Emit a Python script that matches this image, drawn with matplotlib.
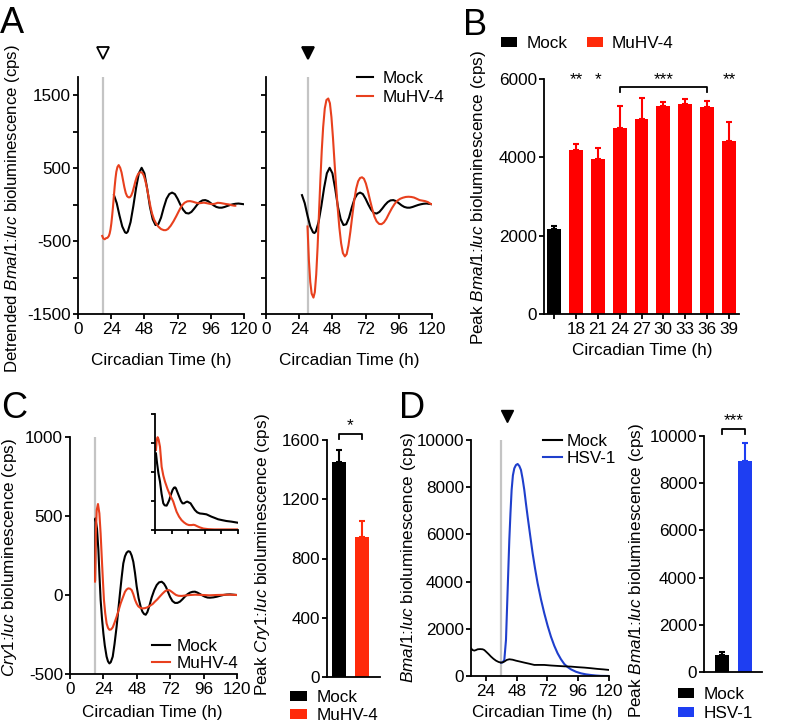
import matplotlib
matplotlib.use("Agg")
import matplotlib.pyplot as plt
from matplotlib.lines import Line2D
from matplotlib.patches import Rectangle

W, H = 796, 728

# ---- panel A: detrended Bmal1:luc, mock (same trace in both plots)
CT_MOCK_A = [26, 28, 30, 32, 34, 35, 36, 38, 40, 42, 44, 46, 48, 50, 52, 54, 56, 58,
             60, 62, 64, 66, 68, 70, 72, 74, 76, 78, 80, 82, 84, 86, 88, 90, 92, 94,
             96, 98, 100, 102, 104, 106, 108, 110, 112, 114, 116, 118, 120]
MOCK_A = [130, 20, -150, -300, -380, -390, -370, -240, -20, 230, 430, 505, 430, 220,
          -30, -200, -280, -270, -180, -40, 80, 145, 165, 145, 80, 0, -70, -115, -122,
          -100, -55, -5, 35, 58, 62, 48, 20, -10, -32, -42, -42, -32, -18, -5, 5, 12,
          15, 10, 5]

# MuHV-4 added at CT18
CT_MUHV_A18 = [17.5, 18.3, 19.3, 20.3, 21.3, 22.3, 22.9, 23.5, 24.1, 24.7, 25.3, 25.9,
               26.5, 27.1, 27.7, 28.5, 29.4, 30.5, 31.5, 32.5, 33.5, 34.5, 35.5, 36.5,
               37.5, 38.5, 39.5, 40.5, 41.5, 42.5, 43.5, 44.5, 45.5, 46.5, 47.5, 48.5,
               49.5, 50.5, 51.5, 52.5, 53.5, 55, 56.5, 58, 60, 62, 63.5, 65, 67, 69, 71,
               73, 75, 77, 79, 81, 83, 85, 87, 89, 91, 93, 95, 97, 99, 101, 103, 105,
               107, 109, 111, 113, 113.7]
MUHV_A18 = [-430, -465, -475, -460, -455, -430, -395, -340, -258, -150, -29, 110, 245,
            360, 450, 515, 542, 505, 440, 340, 240, 160, 115, 100, 100, 125, 175, 245,
            320, 380, 420, 440, 445, 435, 400, 340, 260, 160, 60, -40, -120, -205, -260,
            -300, -335, -350, -350, -335, -290, -230, -160, -85, -15, 25, 45, 48, 40,
            28, 18, 22, 27, 20, 12, 6, 12, 25, 22, 15, 8, 3, -8, -15, -15]

# MuHV-4 added at CT30
CT_MUHV_A30 = [30, 31, 32, 33, 34.3, 35.3, 36.3, 37.3, 38.3, 39.3, 40.3, 41.3, 42.5,
               43.7, 45, 46.2, 47.3, 48.4, 49.5, 50.6, 51.8, 53, 54.3, 55.6, 57, 58.3,
               59.6, 61, 62.4, 63.8, 65.2, 66.6, 68, 69.4, 70.8, 72.2, 73.6, 75.2, 76.8,
               78.4, 80, 81.8, 83.5, 85.2, 87, 89, 91, 93, 95, 97, 99, 101, 103, 105,
               107, 109, 111, 113, 115, 117, 119, 120]
MUHV_A30 = [-300, -760, -1060, -1220, -1275, -1200, -960, -580, -120, 335, 740, 1060,
            1320, 1435, 1455, 1390, 1200, 920, 590, 280, -40, -310, -530, -665, -710,
            -680, -560, -370, -150, 60, 220, 320, 365, 375, 355, 290, 190, 60, -60,
            -165, -230, -265, -268, -245, -195, -120, -50, 10, 55, 80, 95, 105, 108,
            105, 97, 80, 62, 55, 48, 35, 10, 5]

# ---- panel B: peak Bmal1:luc by time of infection
B_LABELS = ["", "18", "21", "24", "27", "30", "33", "36", "39"]
B_PEAK = [2170, 4195, 3950, 4750, 4980, 5300, 5370, 5290, 4410]
B_SEM = [65, 140, 300, 560, 545, 120, 120, 155, 500]

# ---- panel C: Cry1:luc
CT_C_MOCK = [18, 18.3, 19.4, 20.4, 21.2, 22, 23, 24, 25, 26.3, 27.3, 28.3, 29.3, 30.7,
             32, 33.5, 34.7, 35.9, 37.1, 38.3, 39.5, 40.7, 41.9, 43.1, 44.3, 45.5, 46.7,
             47.9, 49.3, 50.8, 52, 53.2, 54.4, 55.6, 57, 58.7, 60.5, 62.3, 64, 65.9,
             67.5, 69, 70.5, 71.9, 73.6, 75.4, 77.2, 79, 80.8, 82.6, 84.4, 86.2, 88,
             89.8, 91.6, 93.4, 95.2, 97, 98.8, 100.6, 103, 105.4, 107.8, 110.2, 112.6,
             115, 117.4, 119.8]
C_MOCK = [95, 485, 420, 285, 120, -30, -150, -245, -320, -390, -420, -433, -425, -390,
          -310, -200, -95, 10, 110, 200, 245, 268, 277, 274, 250, 210, 140, 55, -20, -75,
          -105, -120, -125, -108, -70, -15, 30, 63, 80, 84, 72, 50, 18, -12, -38, -50,
          -50, -42, -27, -10, 5, 15, 20, 21, 15, 6, -3, -11, -16, -17, -15, -11, -5, 0,
          3, 4, 2, 0]
CT_C_MUHV = [18, 18.6, 19.2, 20.1, 21.1, 22, 22.8, 23.6, 24.4, 25.3, 26.3, 27.3, 28.3,
             29.5, 30.7, 32, 33.5, 35, 36.4, 38, 39.5, 40.7, 41.9, 43.1, 44.3, 45.5,
             46.7, 47.9, 49.1, 50.6, 52.2, 53.9, 55.6, 57.5, 59.4, 61, 62.8, 64.7, 66.6,
             68.3, 69.9, 71.5, 73, 74.6, 76.2, 78, 80.2, 83, 86.2, 90, 95.8, 100, 105.4,
             110, 115, 119.8]
C_MUHV = [85, 400, 538, 576, 517, 390, 242, 100, -32, -115, -180, -208, -220, -218,
          -205, -175, -137, -95, -53, -15, 20, 35, 42, 40, 31, 5, -30, -55, -72, -82, -85,
          -83, -78, -68, -57, -42, -27, -8, 10, 24, 31, 30, 21, 10, 0, -5, -6, -3, 0, 2,
          0, -2, 0, 1, 2, 0]

# inset: raw Cry1:luc traces (arbitrary units)
CT_INSET_MOCK = [1.4, 3, 5, 7.2, 9.5, 12, 14, 16.8, 18.5, 20.6, 23, 25.4, 27.5, 29,
                 30.2, 32.5, 35, 37.5, 39.8, 42, 44.5, 46.6, 49, 51.4, 54, 57.6, 61,
                 64.8, 69, 74.4, 78, 81.6, 86, 91.2, 97, 103.2, 110, 115, 120]
INSET_MOCK = [2.64, 2.3, 1.95, 1.67, 1.25, 0.92, 0.85, 0.84, 0.92, 1.03, 1.22, 1.38,
              1.46, 1.47, 1.44, 1.3, 1.15, 1.0, 0.92, 0.92, 0.96, 0.98, 0.95, 0.92,
              0.82, 0.69, 0.61, 0.57, 0.56, 0.54, 0.5, 0.46, 0.42, 0.37, 0.34, 0.31,
              0.29, 0.27, 0.25]
CT_INSET_MUHV = [1.4, 2.5, 3.8, 5.2, 7.2, 8.5, 9.6, 12, 14.4, 18, 21.6, 24, 26.4, 28.8,
                 31.2, 34.8, 38.4, 42, 45.6, 49, 52.8, 55.5, 57.6, 61, 64.8, 70, 76.8,
                 86, 96, 108, 120]
INSET_MUHV = [2.76, 3.1, 3.2, 3.12, 2.87, 2.5, 2.18, 1.88, 1.67, 1.42, 1.21, 1.1, 0.98,
              0.8, 0.63, 0.46, 0.34, 0.26, 0.2, 0.17, 0.17, 0.18, 0.17, 0.13, 0.09,
              0.05, 0.03, 0.02, 0.02, 0.02, 0.02]

C_GROUPS = ["Mock", "MuHV-4"]
C_PEAK = [1450, 943]
C_SEM = [83, 112]

# ---- panel D: HSV-1
CT_D_MOCK = [12.3, 13.5, 14.9, 16.2, 17.5, 19.5, 21.4, 22.7, 24, 26, 27.9, 29.8, 31.8,
             33.8, 35.7, 37, 38.3, 40.2, 42.2, 44.8, 47.4, 50.6, 53.9, 57.8, 61.7, 65.6,
             69.5, 74.7, 79.9, 85.1, 90.3, 95.5, 100.7, 105.9, 111.1, 115.7, 120]
D_MOCK = [1175, 1100, 1076, 1100, 1132, 1140, 1132, 1100, 1034, 930, 822, 730, 650,
          595, 567, 580, 610, 680, 709, 690, 650, 610, 567, 520, 469, 470, 469, 445, 427,
          410, 398, 375, 356, 330, 300, 280, 257]
CT_D_HSV = [35.7, 37, 38.3, 39.6, 40.9, 42.2, 43.1, 44, 45, 46.1, 47.4, 48.7, 50, 51.3,
            52.6, 53.9, 55.2, 56.5, 58.5, 60.4, 62.3, 64.3, 66.9, 69.5, 72.1, 74.7,
            77.3, 79.9, 82.5, 85.1, 87.7, 90.3, 94.2, 98.1, 102, 105.9, 109.8, 113.7,
            120]
D_HSV = [567, 575, 680, 1528, 3646, 5764, 6900, 7882, 8500, 8800, 8940, 8983, 8900,
         8729, 8350, 7882, 7300, 6752, 5950, 5199, 4550, 3929, 3250, 2657, 2130, 1666,
         1280, 960, 710, 508, 380, 282, 180, 113, 70, 42, 20, 5, 0]

D_GROUPS = ["Mock", "HSV-1"]
D_PEAK = [725, 8945]
D_SEM = [135, 770]

BLACK = "#000000"
RED_LINE = "#e8401e"
RED_BAR = "#ff0000"
RED_BAR_C = "#ff2a0a"
BLUE_LINE = "#1f3fcc"
BLUE_BAR = "#1e3ef2"
GREY = "#c4c4c4"

plt.rcParams.update({
    "font.family": ["Liberation Sans", "DejaVu Sans"],
    "font.size": 12.3,
    "mathtext.fontset": "custom",
    "mathtext.rm": "Liberation Sans",
    "mathtext.it": "Liberation Sans:italic",
    "axes.unicode_minus": False,
    "axes.linewidth": 1.3,
    "xtick.major.width": 1.3,
    "ytick.major.width": 1.3,
    "xtick.minor.width": 1.3,
    "ytick.minor.width": 1.3,
    "xtick.major.size": 3.6,
    "ytick.major.size": 3.6,
    "ytick.minor.size": 3.6,
    "xtick.major.pad": 2,
    "ytick.major.pad": 1.5,
})


def fx(x):
    return x / W


def fy(y):
    return 1 - y / H


def add_px_axes(fig, left, top, right, bottom):
    ax = fig.add_axes([left / W, 1 - bottom / H, (right - left) / W, (bottom - top) / H])
    ax.spines["top"].set_visible(False)
    ax.spines["right"].set_visible(False)
    ax.tick_params(direction="out", labelsize=12.3)
    return ax


def line_key(fig, x0, x1, tx, y, color, label):
    fig.add_artist(Line2D([fx(x0), fx(x1)], [fy(y), fy(y)], color=color, lw=1.5,
                          transform=fig.transFigure))
    fig.text(fx(tx), fy(y), label, ha="left", va="center_baseline", fontsize=12.3)


def box_key(fig, x0, x1, tx, y, color, label, h=10):
    fig.add_artist(Rectangle((fx(x0), fy(y + h / 2)), (x1 - x0) / W, h / H,
                             color=color, transform=fig.transFigure, lw=0))
    fig.text(fx(tx), fy(y), label, ha="left", va="center_baseline", fontsize=12.3)


def bracket(ax, x0, x1, y, drop, stars, star_y):
    ax.plot([x0, x0, x1, x1], [y - drop, y, y, y - drop], color=BLACK, lw=1.3,
            clip_on=False)
    ax.text((x0 + x1) / 2, star_y, stars, ha="center", va="center", fontsize=12.3,
            clip_on=False)


def peak_bars(ax, x, peaks, sems, colors, width):
    ax.bar(x, peaks, width, color=colors, lw=0)
    for xi, p, s, c in zip(x, peaks, sems, colors):
        ax.errorbar([xi], [p], yerr=[[0], [s]], fmt="none", ecolor=c,
                    elinewidth=1.5, capsize=2.4, capthick=1.5)


fig = plt.figure(figsize=(W / 100, H / 100), dpi=100)

# ---------------- A
bmal_label = "Detrended $\\mathit{Bmal1}$:$\\mathit{luc}$ bioluminescence (cps)"
for left, right, t_inf, ct, vals, open_mark in (
    (78, 244, 18, CT_MUHV_A18, MUHV_A18, True),
    (266, 432, 30, CT_MUHV_A30, MUHV_A30, False),
):
    ax = add_px_axes(fig, left, 77, right, 314)
    ax.axvline(t_inf, color=GREY, lw=1.6, zorder=0)
    ax.plot(CT_MOCK_A, MOCK_A, color=BLACK, lw=1.5)
    ax.plot(ct, vals, color=RED_LINE, lw=1.5)
    ax.set_xlim(0, 120)
    ax.set_ylim(-1500, 1750)
    ax.set_xticks([0, 24, 48, 72, 96, 120])
    ax.set_yticks([-1500, -500, 500, 1500])
    ax.set_yticks([-1000, 0, 1000], minor=True)
    ax.tick_params(axis="x", which="minor", bottom=False)
    if not open_mark:
        ax.set_yticklabels([])
    ax.plot([t_inf], [1.101], marker="v", ms=8, transform=ax.get_xaxis_transform(),
            clip_on=False, mfc="white" if open_mark else BLACK, mec=BLACK, mew=1.3)
    fig.text(fx((left + right) / 2), fy(360), "Circadian Time (h)", ha="center",
             va="center", fontsize=12.3)

fig.text(fx(13), fy(209), bmal_label, rotation=90, ha="center", va="center",
         fontsize=12.1)
line_key(fig, 357, 373, 383, 77, BLACK, "Mock")
line_key(fig, 357, 373, 383, 96, RED_LINE, "MuHV-4")

# ---------------- B
ax = add_px_axes(fig, 544, 79, 739, 314)
xb = list(range(len(B_PEAK)))
peak_bars(ax, xb, B_PEAK, B_SEM, [BLACK] + [RED_BAR] * (len(B_PEAK) - 1), 0.64)
ax.set_xlim(-0.46, 8.46)
ax.set_ylim(0, 6000)
ax.set_yticks([0, 2000, 4000, 6000])
ax.set_xticks(xb)
ax.set_xticklabels(B_LABELS)
for i, stars in ((1, "**"), (2, "*"), (8, "**")):
    ax.text(i, 5980, stars, ha="center", va="center", fontsize=12.3, clip_on=False)
bracket(ax, 3, 7, 5800, 130, "***", 5980)
fig.text(fx(642), fy(350), "Circadian Time (h)", ha="center", va="center",
         fontsize=12.3)
fig.text(fx(478), fy(197), "Peak $\\mathit{Bmal1}$:$\\mathit{luc}$ bioluminescence (cps)",
         rotation=90, ha="center", va="center", fontsize=12.3)
box_key(fig, 501, 517, 527, 42, BLACK, "Mock")
box_key(fig, 587, 603, 612, 42, "#ff2a0a", "MuHV-4")

# ---------------- C
ax = add_px_axes(fig, 70, 437, 237, 674)
ax.axvline(18, color=GREY, lw=1.6, zorder=0)
ax.plot(CT_C_MOCK, C_MOCK, color=BLACK, lw=1.5)
ax.plot(CT_C_MUHV, C_MUHV, color=RED_LINE, lw=1.5)
ax.set_xlim(0, 120)
ax.set_ylim(-500, 1000)
ax.set_xticks([0, 24, 48, 72, 96, 120])
ax.set_yticks([-500, 0, 500, 1000])
fig.text(fx(152), fy(712), "Circadian Time (h)", ha="center", va="center",
         fontsize=12.3)
fig.text(fx(10), fy(558), "$\\mathit{Cry1}$:$\\mathit{luc}$ bioluminescence (cps)",
         rotation=90, ha="center", va="center", fontsize=12.3)
line_key(fig, 152, 170, 177, 645, BLACK, "Mock")
line_key(fig, 152, 170, 177, 662, RED_LINE, "MuHV-4")

ins = add_px_axes(fig, 155, 414, 238, 530)
ins.plot(CT_INSET_MOCK, INSET_MOCK, color=BLACK, lw=1.5)
ins.plot(CT_INSET_MUHV, INSET_MUHV, color=RED_LINE, lw=1.5)
ins.set_xlim(0, 120)
ins.set_ylim(0, 4)
ins.set_xticks([0, 24, 48, 72, 96, 120])
ins.set_yticks([0, 1, 2, 3, 4])
ins.tick_params(labelbottom=False, labelleft=False, length=3)

ax = add_px_axes(fig, 327, 440, 380, 677)
peak_bars(ax, [0, 1], C_PEAK, C_SEM, [BLACK, RED_BAR_C], 0.62)
ax.set_xlim(-0.51, 1.78)
ax.set_ylim(0, 1600)
ax.set_yticks([0, 400, 800, 1200, 1600])
ax.set_xticks([])
bracket(ax, 0, 1, 1640, 35, "*", 1700)
fig.text(fx(263), fy(555), "Peak $\\mathit{Cry1}$:$\\mathit{luc}$ bioluminescence (cps)",
         rotation=90, ha="center", va="center", fontsize=12.3)
box_key(fig, 290, 307, 317, 696, BLACK, C_GROUPS[0])
box_key(fig, 290, 307, 317, 714, RED_BAR_C, C_GROUPS[1])

# ---------------- D
ax = add_px_axes(fig, 471, 440, 609, 676)
ax.axvline(36, color=GREY, lw=1.6, zorder=0)
ax.plot(CT_D_HSV, D_HSV, color=BLUE_LINE, lw=1.5)
ax.plot(CT_D_MOCK, D_MOCK, color=BLACK, lw=1.3)
ax.set_xlim(12.3, 120)
ax.set_ylim(0, 10000)
ax.set_xticks([24, 48, 72, 96, 120])
ax.set_yticks([0, 2000, 4000, 6000, 8000, 10000])
ax.plot([40.5], [1.102], marker="v", ms=8, transform=ax.get_xaxis_transform(),
        clip_on=False, color=BLACK)
fig.text(fx(542), fy(712), "Circadian Time (h)", ha="center", va="center",
         fontsize=12.3)
fig.text(fx(408), fy(557), "$\\mathit{Bmal1}$:$\\mathit{luc}$ bioluminescence (cps)",
         rotation=90, ha="center", va="center", fontsize=12.3)
line_key(fig, 543, 562, 567, 440, BLACK, "Mock")
line_key(fig, 543, 562, 567, 457, BLUE_LINE, "HSV-1")

ax = add_px_axes(fig, 704, 436, 762, 672)
peak_bars(ax, [0, 1], D_PEAK, D_SEM, [BLACK, BLUE_BAR], 0.63)
ax.set_xlim(-0.78, 1.74)
ax.set_ylim(0, 10000)
ax.set_yticks([0, 2000, 4000, 6000, 8000, 10000])
ax.set_xticks([])
bracket(ax, 0, 1, 10300, 210, "***", 10650)
fig.text(fx(637), fy(570), "Peak $\\mathit{Bmal1}$:$\\mathit{luc}$ bioluminescence (cps)",
         rotation=90, ha="center", va="center", fontsize=12.3)
box_key(fig, 678, 694, 704, 693, BLACK, D_GROUPS[0])
box_key(fig, 678, 694, 704, 712, BLUE_BAR, D_GROUPS[1])

# panel letters
for x, y, letter in ((0, 33, "A"), (463, 35, "B"), (1, 418, "C"), (399, 418, "D")):
    fig.text(fx(x), fy(y), letter, ha="left", va="baseline", fontsize=26)

fig.savefig("out.png", dpi=100)
